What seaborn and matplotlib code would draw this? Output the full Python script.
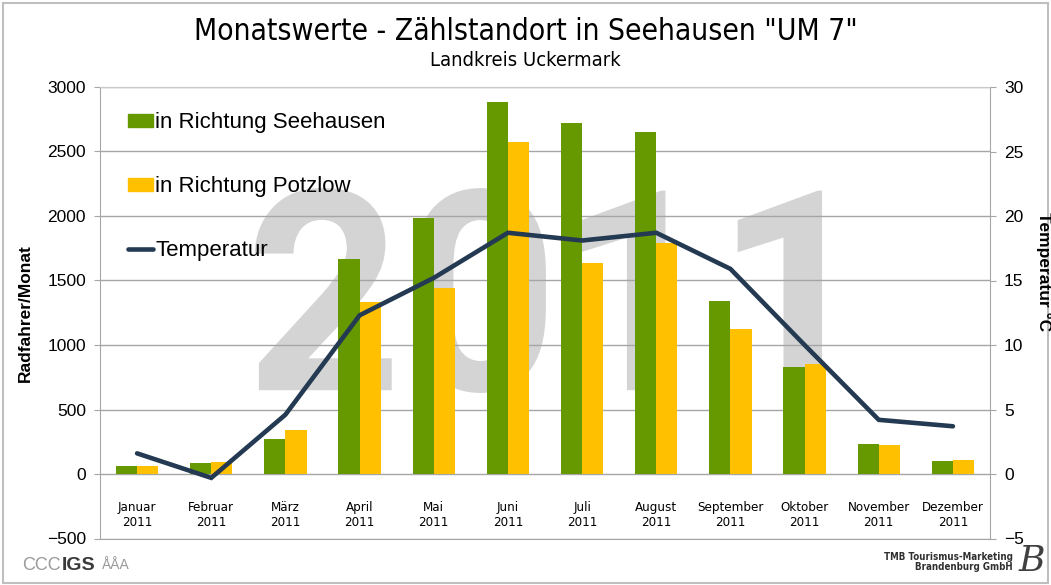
import seaborn as sns
from matplotlib import pyplot as plt
from matplotlib.patches import Patch, Rectangle, PathPatch
from matplotlib.lines import Line2D
from matplotlib.textpath import TextPath
from matplotlib.transforms import Affine2D, ScaledTranslation
from matplotlib import font_manager
import numpy as np
import pandas as pd

months = ['Januar', 'Februar', 'März', 'April', 'Mai', 'Juni', 'Juli',
          'August', 'September', 'Oktober', 'November', 'Dezember']
year = '2011'
seehausen = [60, 83, 269, 1667, 1982, 2884, 2721, 2649, 1341, 827, 230, 103]
potzlow = [60, 93, 343, 1333, 1442, 2574, 1638, 1788, 1124, 850, 222, 111]
temperatur = [1.6, -0.3, 4.6, 12.3, 15.2, 18.7, 18.1, 18.7, 15.9, 10.0, 4.2, 3.7]

GREEN = '#669900'
YELLOW = '#ffc000'
NAVY = '#243a52'
GRID = '#a6a6a6'

sns.set_style('white')
plt.rcParams['font.family'] = ['Liberation Sans', 'DejaVu Sans']
for key in ['text.color', 'axes.labelcolor', 'xtick.color', 'ytick.color']:
    plt.rcParams[key] = 'black'

cond = [f for f in font_manager.fontManager.ttflist
        if f.name == 'DejaVu Sans' and 'ondensed' in f.fname and f.weight == 400
        and f.style == 'normal']
NARROW = dict(family='DejaVu Sans', stretch='condensed') if cond else dict(family='Liberation Sans')

df = pd.DataFrame({
    'Monat': months * 2,
    'Radfahrer': seehausen + potzlow,
    'Richtung': ['in Richtung Seehausen'] * 12 + ['in Richtung Potzlow'] * 12,
})

fig = plt.figure(figsize=(10.51, 5.85), dpi=100)
ax = fig.add_axes([100 / 1051, 46.5 / 585, 890 / 1051, 451.5 / 585])

sns.barplot(data=df, x='Monat', y='Radfahrer', hue='Richtung',
            palette=[GREEN, YELLOW], saturation=1, width=0.57, gap=0,
            legend=False, ax=ax, zorder=2, edgecolor='none', linewidth=0)

ax.set_xlim(-0.5, 11.5)
ax.set_ylim(-500, 3000)
ax.set_yticks(np.arange(-500, 3001, 500))
ax.set_axisbelow(True)
ax.yaxis.grid(True, color=GRID, lw=1)
ax.tick_params(axis='y', labelsize=12.5, length=4, color=GRID, labelcolor='black', pad=6)
ax.set_xticks(np.arange(12))
ax.set_xticklabels([f'{m}\n{year}' for m in months], fontsize=9.5,
                   linespacing=1.25, **NARROW)
ax.tick_params(axis='x', length=0, pad=-27)
ax.set_xlabel('')
ax.set_ylabel('Radfahrer/Monat', fontsize=12.5, fontweight='bold', labelpad=10)
for side in ['left', 'right', 'bottom']:
    ax.spines[side].set_color(GRID)
ax.spines['top'].set_color('#c8c8c8')

# big year watermark, drawn as an outline path behind the grid and bars
wm = TextPath((0, 0), year, size=205,
              prop=font_manager.FontProperties(family=['Roboto', 'Liberation Sans'],
                                               weight='bold'))
ext = wm.get_extents()
sx = 567 / (ext.width * fig.dpi / 72)
sy = 205 / (ext.height * fig.dpi / 72)
wm_trans = (Affine2D().translate(-(ext.x0 + ext.x1) / 2, -ext.y0)
            .scale(fig.dpi / 72 * sx, fig.dpi / 72 * sy)
            + ScaledTranslation(0.4927, 0.3223, ax.transAxes))
ax.add_artist(PathPatch(wm, transform=wm_trans, facecolor='#d4d4d4',
                        edgecolor='none', zorder=0.2))

ax2 = ax.twinx()
sns.lineplot(x=np.arange(12), y=temperatur, ax=ax2, color=NAVY, lw=3.3,
             solid_capstyle='round', solid_joinstyle='miter')
ax2.set_ylim(-5, 30)
ax2.set_yticks(np.arange(-5, 31, 5))
ax2.tick_params(axis='y', labelsize=12.5, length=4, color=GRID, labelcolor='black', pad=6)
for s in ax2.spines.values():
    s.set_visible(False)
ax2.set_ylabel('')

handles = [Patch(color=GREEN, label='in Richtung Seehausen'),
           Patch(color=YELLOW, label='in Richtung Potzlow'),
           Line2D([], [], color=NAVY, lw=3.3, solid_capstyle='round',
                  label='Temperatur')]
ax2.legend(handles=handles, loc='upper left', bbox_to_anchor=(0.031, 0.944),
           frameon=False, fontsize=16, handlelength=1.15, handleheight=0.55,
           handletextpad=0.1, labelspacing=1.93, borderaxespad=0, borderpad=0)

fig.text(0.5, 0.946, 'Monatswerte - Zählstandort in Seehausen "UM 7"',
         ha='center', va='center', fontsize=21.5, **NARROW)
fig.text(0.5, 0.897, 'Landkreis Uckermark', ha='center', va='center',
         fontsize=14.5, **NARROW)
fig.text(1044 / 1051, 313 / 585, 'Temperatur °C', rotation=270, ha='center',
         va='center', fontsize=12.5, fontweight='bold')

# logos at the bottom
fig.text(62 / 1051, 1 - 565 / 585, 'IGS', ha='left', va='center', fontsize=14,
         fontweight='bold', color='#3a3a3a')
fig.text(22 / 1051, 1 - 565 / 585, 'CCC', ha='left', va='center', fontsize=13,
         color='#9a9a9a')
fig.text(102 / 1051, 1 - 565 / 585, 'ÅÅA', ha='left', va='center', fontsize=10,
         color='#9a9a9a')
fig.text(1013 / 1051, 1 - 562 / 585, 'TMB Tourismus-Marketing\nBrandenburg GmbH',
         ha='right', va='center', fontsize=7, fontweight='bold',
         color='#303030', multialignment='right', linespacing=1.05, **NARROW)
fig.text(1032 / 1051, 1 - 561 / 585, 'B', ha='center', va='center', fontsize=26,
         style='italic', family='DejaVu Serif', color='#404040')

fig.patches.append(Rectangle((3 / 1051, 2 / 585), 1045 / 1051, 580 / 585,
                             transform=fig.transFigure, fill=False,
                             ec='#bfbfbf', lw=1.5))

fig.savefig('out.png', dpi=100)
